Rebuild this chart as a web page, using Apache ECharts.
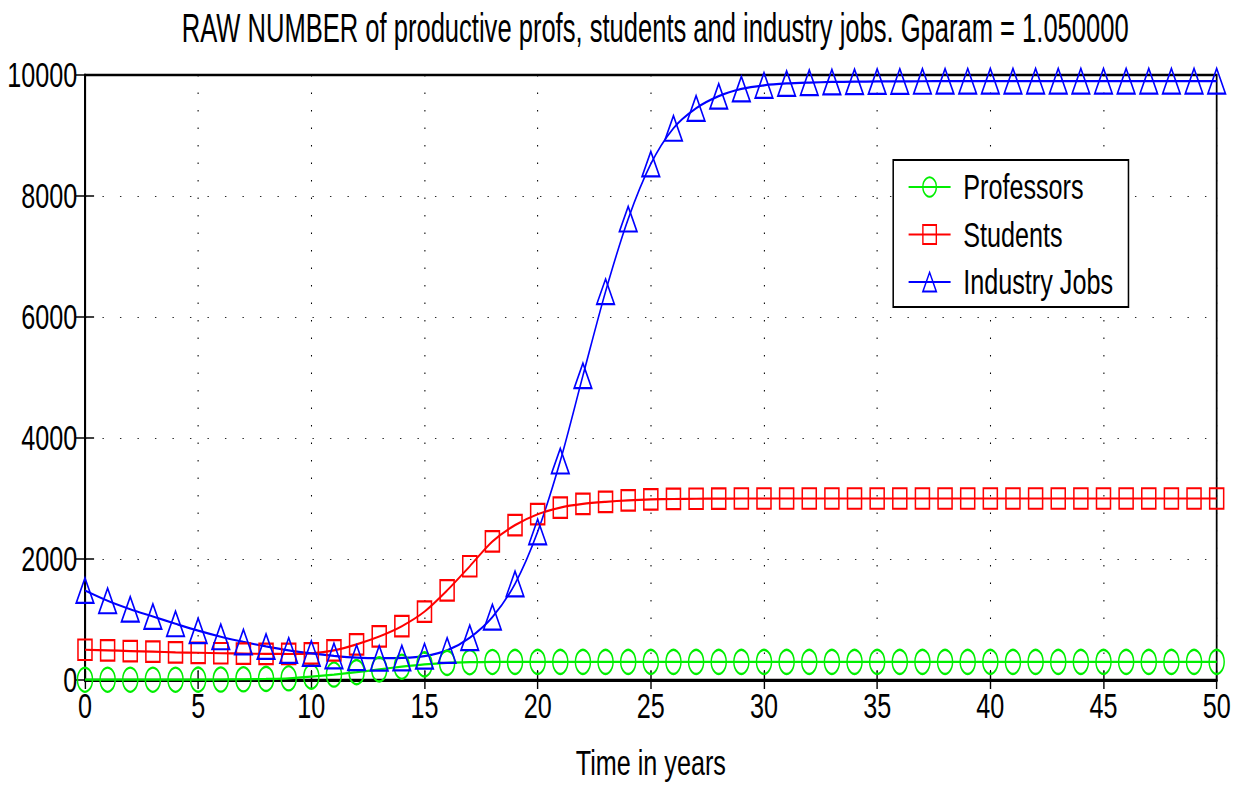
<!DOCTYPE html>
<html>
<head>
<meta charset="utf-8">
<style>
  html, body { margin: 0; padding: 0; background: #fff; overflow: hidden; }
  /* The figure uses a condensed typeface; the drawing surface is laid out
     wider and squeezed horizontally so text and markers get that look. */
  #chart { width: 1781px; height: 788px; transform: scaleX(0.7); transform-origin: 0 0; }
</style>
<script src="https://cdn.jsdelivr.net/npm/echarts@6/dist/echarts.min.js"></script>
</head>
<body>
<div id="chart"></div>
<script>
// Years 0..50
const years = Array.from({ length: 51 }, (_, i) => i);

// Productive professors
const professors = [
  5, 5, 5, 5, 5, 6, 8, 12, 18, 28,
  55, 90, 130, 175, 220, 258, 283, 294, 298, 300,
  300, 300, 300, 300, 300, 300, 300, 300, 300, 300,
  300, 300, 300, 300, 300, 300, 300, 300, 300, 300,
  300, 300, 300, 300, 300, 300, 300, 300, 300, 300, 300
];

// Students
const students = [
  500, 490, 478, 468, 458, 450, 442, 436, 432, 430,
  440, 490, 590, 720, 890, 1130, 1480, 1880, 2290, 2560,
  2740, 2850, 2910, 2945, 2970, 2985, 2992, 2996, 2998, 3000,
  3000, 3000, 3000, 3000, 3000, 3000, 3000, 3000, 3000, 3000,
  3000, 3000, 3000, 3000, 3000, 3000, 3000, 3000, 3000, 3000, 3000
];

// Industry jobs
const industry = [
  1480, 1310, 1170, 1050, 930, 815, 715, 630, 555, 490,
  440, 400, 370, 360, 365, 395, 490, 700, 1040, 1590,
  2450, 3620, 5030, 6420, 7620, 8530, 9120, 9450, 9650, 9770,
  9830, 9860, 9875, 9885, 9890, 9893, 9895, 9897, 9898, 9899,
  9900, 9900, 9900, 9900, 9900, 9900, 9900, 9900, 9900, 9900, 9900
];

const xTicks = { min: 0, max: 50, interval: 5 };
const yTicks = { min: 0, max: 10000, interval: 2000 };

const titleText = 'RAW NUMBER of productive profs, students and industry jobs. Gparam = 1.050000';
const seriesNames = ['Professors', 'Students', 'Industry Jobs'];

const FONT = "'Liberation Sans', Arial, Helvetica, sans-serif";
const GRID_DOTS_V = [1.5, 16];   // dots along vertical grid lines
const GRID_DOTS_H = [2, 23];     // dots along horizontal grid lines

const chart = echarts.init(document.getElementById('chart'), null, { renderer: 'svg' });

const pair = arr => years.map((t, i) => [t, arr[i]]);

function lineSeries(name, data, color, symbol, size) {
  return {
    name: name,
    type: 'line',
    data: pair(data),
    smooth: 0.3,
    symbol: symbol,
    symbolSize: size,
    showAllSymbol: true,
    lineStyle: { color: color, width: 2.2 },
    itemStyle: { color: 'rgba(255,255,255,0)', borderColor: color, borderWidth: 2.2 },
    emphasis: { disabled: true },
    animation: false
  };
}

const tickLabel = { fontFamily: FONT, fontSize: 36, color: '#000', formatter: v => String(v) };

chart.setOption({
  backgroundColor: '#ffffff',
  animation: false,
  graphic: [{
    type: 'text',
    x: 936,
    y: 28,
    scaleX: 0.913,
    style: {
      text: titleText,
      fontFamily: FONT,
      fontSize: 40,
      fill: '#000',
      align: 'center',
      verticalAlign: 'middle'
    }
  }],
  grid: {
    left: 121.4, right: 42.9, top: 75, bottom: 108,
    show: true, borderColor: '#000', borderWidth: 2.5, backgroundColor: 'transparent'
  },
  legend: {
    orient: 'vertical',
    left: 1276, top: 160,
    padding: [9, 22, 7, 21],
    backgroundColor: '#fff',
    borderColor: '#000',
    borderWidth: 2.2,
    itemWidth: 60,
    itemHeight: 24,
    itemGap: 11.5,
    textStyle: { fontFamily: FONT, fontSize: 36, color: '#000', lineHeight: 36, padding: [0, 0, 0, 13] },
    data: seriesNames
  },
  xAxis: [{
    type: 'value',
    min: xTicks.min, max: xTicks.max, interval: xTicks.interval,
    name: 'Time in years',
    nameLocation: 'middle',
    nameGap: 65,
    nameTextStyle: { fontFamily: FONT, fontSize: 36, color: '#000' },
    axisLine: { show: true, onZero: false, lineStyle: { color: '#000', width: 3 } },
    axisTick: { show: true, inside: true, length: 9, lineStyle: { color: '#000', width: 2 } },
    axisLabel: Object.assign({ margin: 8 }, tickLabel),
    splitLine: { show: true, lineStyle: { color: '#000', width: 1.5, type: GRID_DOTS_V } }
  }, {
    type: 'value', position: 'top',
    min: xTicks.min, max: xTicks.max, interval: xTicks.interval,
    axisLine: { show: false },
    axisTick: { show: true, inside: true, length: 9, lineStyle: { color: '#000', width: 2 } },
    axisLabel: { show: false },
    splitLine: { show: false }
  }],
  yAxis: [{
    type: 'value',
    min: yTicks.min, max: yTicks.max, interval: yTicks.interval,
    axisLine: { show: true, lineStyle: { color: '#000', width: 3 } },
    axisTick: { show: true, inside: true, length: 13, lineStyle: { color: '#000', width: 1.5 } },
    axisLabel: Object.assign({ margin: 11 }, tickLabel),
    splitLine: { show: true, lineStyle: { color: '#000', width: 1, type: GRID_DOTS_H } }
  }, {
    type: 'value', position: 'right',
    min: yTicks.min, max: yTicks.max, interval: yTicks.interval,
    axisLine: { show: false },
    axisTick: { show: true, inside: true, length: 13, lineStyle: { color: '#000', width: 1.5 } },
    axisLabel: { show: false },
    splitLine: { show: false }
  }],
  series: [
    lineSeries(seriesNames[0], professors, '#00ee00', 'circle', [21.5, 24]),
    lineSeries(seriesNames[1], students, '#ff0000', 'rect', [20, 20.5]),
    lineSeries(seriesNames[2], industry, '#0000ff', 'triangle', [25, 25])
  ]
});
</script>
</body>
</html>
